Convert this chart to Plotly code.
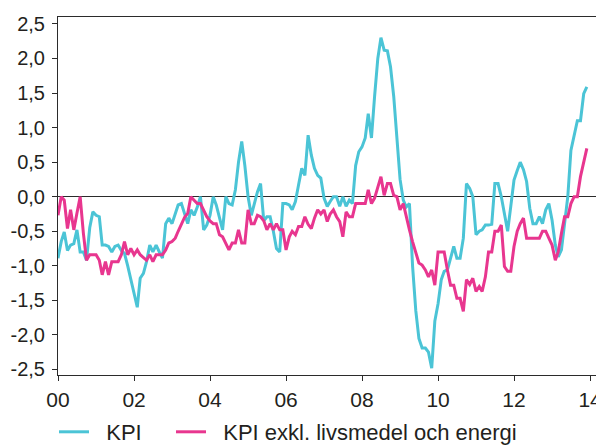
import plotly.graph_objects as go
import pandas as pd

# Monthly data, Jan 2000 - Dec 2013 (percentage-point deviation)
kpi_2000 = [-0.89, -0.65, -0.51, -0.78, -0.70, -0.68, -0.48, -0.80, -0.80, -0.92, -0.45, -0.22]
kpi_2001 = [-0.27, -0.29, -0.70, -0.70, -0.72, -0.80, -0.72, -0.70, -0.78, -0.82, -1.00, -1.20]
kpi_2002 = [-1.40, -1.60, -1.18, -1.11, -0.94, -0.70, -0.80, -0.70, -0.80, -0.89, -0.39, -0.31]
kpi_2003 = [-0.39, -0.24, -0.12, -0.10, -0.24, -0.39, -0.19, -0.27, -0.15, 0.00, -0.48, -0.41]
kpi_2004 = [-0.27, 0.00, -0.12, -0.30, -0.48, 0.00, -0.10, -0.12, 0.10, 0.50, 0.80, 0.45]
kpi_2005 = [0.00, -0.27, -0.10, 0.07, 0.19, -0.35, -0.29, -0.29, -0.50, -0.75, -0.80, -0.10]
kpi_2006 = [-0.10, -0.12, -0.19, -0.07, 0.17, 0.41, 0.31, 0.89, 0.60, 0.41, 0.31, 0.27]
kpi_2007 = [-0.02, -0.14, -0.07, 0.00, 0.00, -0.14, 0.00, -0.14, -0.05, -0.10, 0.45, 0.65]
kpi_2008 = [0.72, 0.85, 1.20, 0.85, 1.45, 2.00, 2.30, 2.12, 2.11, 1.88, 1.45, 0.87]
kpi_2009 = [0.25, -0.05, -0.15, -0.10, -1.00, -1.65, -2.05, -2.19, -2.19, -2.25, -2.48, -1.80]
kpi_2010 = [-1.55, -1.20, -1.08, -1.06, -0.90, -0.72, -0.89, -0.89, -0.60, 0.19, 0.12, 0.00]
kpi_2011 = [-0.55, -0.50, -0.48, -0.41, -0.41, -0.40, 0.19, 0.19, 0.00, -0.24, -0.50, -0.14]
kpi_2012 = [0.24, 0.38, 0.50, 0.39, 0.22, -0.17, -0.39, -0.39, -0.29, -0.39, -0.19, -0.10]
kpi_2013 = [-0.34, -0.70, -0.87, -0.77, -0.43, 0.00, 0.67, 0.87, 1.10, 1.10, 1.49, 1.59]

kpif_2000 = [-0.27, 0.00, -0.05, -0.46, -0.19, -0.48, -0.24, 0.00, -0.53, -0.92, -0.84, -0.84]
kpif_2001 = [-0.84, -0.92, -1.13, -0.94, -1.13, -0.94, -0.94, -0.94, -0.84, -0.65, -0.84, -0.75]
kpif_2002 = [-0.84, -0.77, -0.84, -0.88, -0.92, -0.84, -0.94, -0.84, -0.84, -0.84, -0.77, -0.67]
kpif_2003 = [-0.65, -0.60, -0.50, -0.40, -0.30, -0.24, 0.00, -0.05, -0.10, -0.10, -0.19, -0.29]
kpif_2004 = [-0.35, -0.39, -0.39, -0.55, -0.58, -0.67, -0.77, -0.67, -0.67, -0.48, -0.67, -0.67]
kpif_2005 = [-0.19, -0.39, -0.39, -0.27, -0.29, -0.35, -0.48, -0.39, -0.48, -0.39, -0.48, -0.48]
kpif_2006 = [-0.77, -0.58, -0.50, -0.55, -0.43, -0.43, -0.29, -0.40, -0.46, -0.31, -0.19, -0.25]
kpif_2007 = [-0.19, -0.36, -0.25, -0.19, -0.29, -0.36, -0.58, -0.22, -0.29, -0.29, -0.10, -0.10]
kpif_2008 = [-0.10, -0.10, 0.10, -0.10, -0.02, 0.14, 0.29, 0.02, 0.19, 0.19, 0.02, 0.00]
kpif_2009 = [-0.19, -0.10, -0.29, -0.48, -0.65, -0.80, -0.96, -0.99, -1.06, -1.16, -1.06, -1.28]
kpif_2010 = [-0.80, -0.80, -0.80, -1.06, -1.28, -1.28, -1.47, -1.47, -1.66, -1.20, -1.27, -1.18]
kpif_2011 = [-1.37, -1.30, -1.37, -1.16, -0.80, -0.80, -0.50, -0.50, -0.41, -1.01, -1.08, -1.08]
kpif_2012 = [-0.72, -0.50, -0.39, -0.31, -0.60, -0.60, -0.60, -0.60, -0.60, -0.50, -0.50, -0.60]
kpif_2013 = [-0.70, -0.92, -0.80, -0.53, -0.29, -0.29, -0.10, 0.00, 0.00, 0.29, 0.48, 0.70]

kpi = (kpi_2000 + kpi_2001 + kpi_2002 + kpi_2003 + kpi_2004 + kpi_2005 + kpi_2006 +
       kpi_2007 + kpi_2008 + kpi_2009 + kpi_2010 + kpi_2011 + kpi_2012 + kpi_2013)
kpif = (kpif_2000 + kpif_2001 + kpif_2002 + kpif_2003 + kpif_2004 + kpif_2005 + kpif_2006 +
        kpif_2007 + kpif_2008 + kpif_2009 + kpif_2010 + kpif_2011 + kpif_2012 + kpif_2013)

months = pd.date_range("2000-01-01", periods=len(kpi), freq="MS")

y_tickvals = [2.5, 2.0, 1.5, 1.0, 0.5, 0.0, -0.5, -1.0, -1.5, -2.0, -2.5]
y_ticktext = ["2,5", "2,0", "1,5", "1,0", "0,5", "0,0", "-0,5", "-1,0", "-1,5", "-2,0", "-2,5"]
x_tickvals = ["2000-01-01", "2002-01-01", "2004-01-01", "2006-01-01",
              "2008-01-01", "2010-01-01", "2012-01-01", "2014-01-01"]
x_ticktext = ["00", "02", "04", "06", "08", "10", "12", "14"]

series_names = ["KPI", "KPI exkl. livsmedel och energi"]
CYAN = "#4BC4D6"
MAGENTA = "#E8368F"
AXIS = "#2b2b2b"
PAD = "\u00a0\u00a0"

# The page body adds an 8px margin, so the figure is 8px smaller on each axis.
W, H = 596, 437

fig = go.Figure()
fig.add_trace(go.Scatter(x=months, y=kpi, mode="lines", name=PAD + series_names[0],
                         line=dict(color=CYAN, width=3), legend="legend"))
fig.add_trace(go.Scatter(x=months, y=kpif, mode="lines", name=PAD + series_names[1],
                         line=dict(color=MAGENTA, width=3), legend="legend2"))

leg_common = dict(orientation="h", xanchor="left", yanchor="top",
                  xref="container", yref="container", y=34 / H,
                  font=dict(size=22), itemwidth=30, bgcolor="rgba(0,0,0,0)")
fig.update_layout(
    width=W, height=H,
    margin=dict(l=50, r=5, t=9, b=70),
    plot_bgcolor="white", paper_bgcolor="white",
    font=dict(family="Liberation Sans, Arial, sans-serif", size=20, color="#231f20"),
    showlegend=True,
    legend=dict(x=46 / W, **leg_common),
    legend2=dict(x=163 / W, **leg_common),
)
fig.update_xaxes(
    type="date", range=["2000-01-01", "2014-03-28"],
    tickvals=x_tickvals, ticktext=x_ticktext, tickfont=dict(size=21),
    showline=True, linecolor=AXIS, linewidth=1, mirror=True,
    ticks="outside", ticklen=5, tickcolor=AXIS, showgrid=False, zeroline=False,
    automargin=False, ticklabelstandoff=1,
)
fig.update_yaxes(
    range=[-2.58, 2.6], tickvals=y_tickvals, ticktext=y_ticktext,
    showline=True, linecolor=AXIS, linewidth=1,
    ticks="outside", ticklen=5, tickcolor=AXIS, showgrid=False,
    zeroline=True, zerolinecolor=AXIS, zerolinewidth=1,
    automargin=False, ticklabelstandoff=3,
)
fig.add_shape(type="line", xref="paper", yref="paper", x0=1, x1=1, y0=0, y1=1,
              line=dict(color="#8a8a8a", width=1.5))

fig.write_html("out.html")
